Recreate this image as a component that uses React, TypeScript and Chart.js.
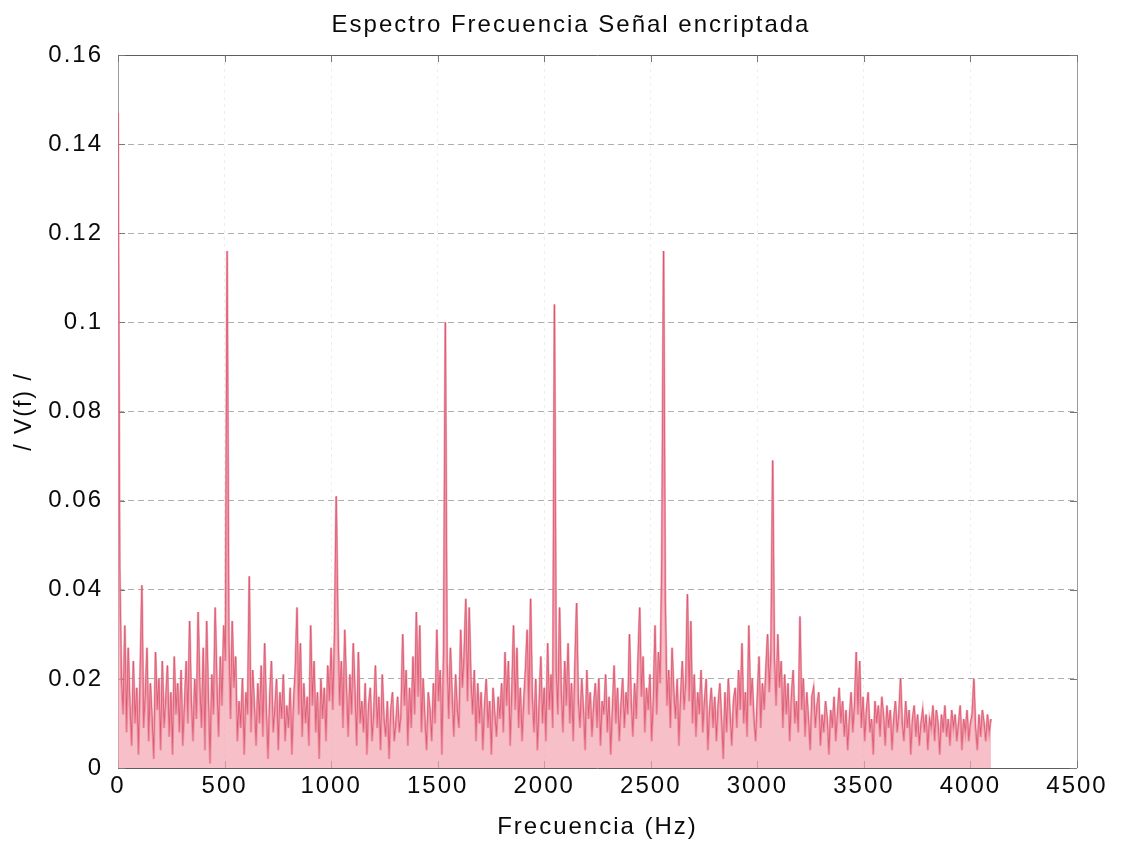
import { useEffect, useRef } from 'react';
import { Chart, registerables } from 'chart.js';

Chart.register(...registerables);

// Spectrum bin spacing (Hz) and magnitude unit (values below are |V(f)| x 1e-3)
const BIN_HZ = 8;
const MAG_UNIT = 1000;

// 0 – 504 Hz
const band0 = [
  147, 45, 20, 12, 32, 8, 27, 14,
  5, 24, 10, 18, 3, 21, 41, 9,
  16, 27, 6, 19, 11, 2, 26, 13,
  20, 4, 24, 9, 15, 23, 7, 17,
  3, 25, 12, 19, 8, 22, 5, 14,
  24, 10, 33, 15, 6, 20, 11, 35,
  18, 9, 27, 4, 33, 16, 1, 21,
  12, 36, 19, 7, 25, 14, 32, 24,
];
// 512 – 1016 Hz
const band1 = [
  116, 29, 11, 33, 18, 25, 6, 15,
  9, 20, 3, 17, 12, 43, 8, 22,
  14, 5, 19, 10, 23, 7, 28, 13,
  2, 16, 24, 8, 13, 20, 4, 17,
  11, 21, 6, 14, 9, 18, 3, 15,
  22, 36, 12, 28, 7, 19, 10, 16,
  5, 32, 14, 24, 8, 17, 2, 20,
  11, 18, 6, 23, 15, 27, 13, 30,
];
// 1024 – 1528 Hz
const band2 = [
  61, 32, 14, 24, 9, 31, 18, 7,
  21, 12, 28, 17, 5, 26, 10, 15,
  8, 19, 3, 14, 18, 6, 12, 23,
  9, 16, 4, 21, 11, 7, 15, 2,
  13, 17, 6, 10, 16, 8, 12, 30,
  14, 22, 5, 18, 9, 25, 12, 35,
  16, 32, 8, 20, 11, 4, 17, 13,
  6, 19, 10, 31, 15, 22, 3, 27,
];
// 1536 – 2040 Hz
const band3 = [
  100, 24, 11, 27, 16, 7, 21, 13,
  9, 31, 18, 25, 38, 15, 36, 20,
  12, 22, 6, 19, 10, 17, 4, 14,
  20, 9, 15, 3, 18, 12, 7, 16,
  11, 19, 8, 26, 14, 24, 5, 17,
  32, 13, 27, 9, 18, 6, 15, 22,
  31, 12, 38, 16, 8, 20, 4, 14,
  25, 10, 18, 6, 28, 13, 21, 9,
];
// 2048 – 2552 Hz
const band4 = [
  104, 22, 12, 36, 17, 8, 24, 14,
  28, 10, 19, 6, 23, 37, 15, 9,
  20, 13, 4, 22, 11, 17, 7, 14,
  19, 9, 20, 5, 15, 12, 21, 8,
  16, 3, 13, 23, 10, 18, 6, 14,
  20, 9, 17, 12, 30, 15, 7, 19,
  11, 24, 36, 16, 25, 8, 18, 13,
  21, 6, 15, 32, 12, 26, 19, 47,
];
// 2560 – 3064 Hz
const band5 = [
  116, 38, 14, 22, 9, 27, 17, 11,
  20, 5, 16, 24, 13, 19, 39, 15,
  33, 10, 21, 7, 17, 12, 22, 8,
  15, 20, 4, 13, 18, 9, 16, 6,
  14, 19, 11, 2, 17, 8, 20, 12,
  5, 15, 18, 9, 22, 13, 28, 10,
  17, 7, 32, 14, 20, 11, 6, 16,
  25, 9, 19, 13, 22, 30, 17, 26,
];
// 3072 – 3576 Hz
const band6 = [
  69, 25, 14, 30, 18, 24, 9, 21,
  12, 19, 6, 16, 22, 10, 15, 8,
  34, 13, 20, 7, 17, 11, 4, 16,
  18, 9, 14, 17, 5, 12, 8, 15,
  11, 3, 13, 9, 16, 6, 12, 18,
  10, 15, 7, 13, 4, 11, 17, 8,
  14, 26, 12, 24, 9, 16, 6, 13,
  17, 8, 11, 3, 15, 10, 14, 7,
];
// 3584 – 4096 Hz
const band7 = [
  16, 12, 5, 14, 9, 13, 4, 11,
  15, 8, 12, 20, 10, 6, 15, 9,
  13, 3, 11, 14, 7, 12, 5, 10,
  13, 8, 12, 4, 11, 9, 14, 6,
  13, 10, 3, 12, 8, 14, 7, 11,
  5, 13, 9, 12, 6, 10, 14, 4,
  11, 8, 13, 6, 10, 12, 20, 9,
  4, 12, 7, 13, 10, 6, 12, 8, 11,
];

const magnitudes = [band0, band1, band2, band3, band4, band5, band6, band7]
  .flat()
  .map((v) => v / MAG_UNIT);

const X_MAX = 4500;
const X_STEP = 500;
const Y_MAX = 0.16;
const Y_STEP = 0.02;

const TITLE = 'Espectro Frecuencia Señal encriptada';
const X_LABEL = 'Frecuencia (Hz)';
const Y_LABEL = '/ V(f) /';

const FONT_FAMILY = "'Liberation Sans', Arial, Helvetica, sans-serif";
const TEXT_COLOR = '#0a0a0a';
const LETTER_SPACING = '2px';
const TITLE_X = 571;
const TITLE_Y = 25;

// MATLAB-like axes box with inward tick marks, the figure title, and wider glyph spacing
const axesBox = {
  id: 'axesBox',
  beforeUpdate(chart: any) {
    chart.ctx.letterSpacing = LETTER_SPACING;
  },
  beforeDraw(chart: any) {
    chart.ctx.letterSpacing = LETTER_SPACING;
  },
  beforeDatasetsDraw(chart: any) {
    const { ctx, chartArea: a, scales } = chart;
    ctx.save();
    ctx.lineWidth = 1;
    ctx.setLineDash([]);
    ctx.strokeStyle = '#5e5e5e';
    ctx.beginPath();
    ctx.moveTo(a.left, a.top + 0.5);
    ctx.lineTo(a.right, a.top + 0.5);
    ctx.moveTo(a.left, a.bottom + 0.5);
    ctx.lineTo(a.right, a.bottom + 0.5);
    ctx.stroke();
    ctx.strokeStyle = '#9a9a9a';
    ctx.beginPath();
    ctx.moveTo(a.left + 0.5, a.top);
    ctx.lineTo(a.left + 0.5, a.bottom);
    ctx.moveTo(a.right + 0.5, a.top);
    ctx.lineTo(a.right + 0.5, a.bottom);
    ctx.stroke();
    const tl = 7;
    ctx.strokeStyle = '#777';
    ctx.beginPath();
    scales.x.ticks.forEach((t: any) => {
      const px = Math.round(scales.x.getPixelForValue(t.value)) + 0.5;
      ctx.moveTo(px, a.bottom);
      ctx.lineTo(px, a.bottom - tl);
      ctx.moveTo(px, a.top);
      ctx.lineTo(px, a.top + tl);
    });
    scales.y.ticks.forEach((t: any) => {
      const py = Math.round(scales.y.getPixelForValue(t.value)) + 0.5;
      ctx.moveTo(a.left, py);
      ctx.lineTo(a.left + tl, py);
      ctx.moveTo(a.right, py);
      ctx.lineTo(a.right - tl, py);
    });
    ctx.stroke();
    ctx.restore();
  },
  afterDraw(chart: any) {
    const { ctx } = chart;
    ctx.save();
    ctx.letterSpacing = LETTER_SPACING;
    ctx.font = `24px ${FONT_FAMILY}`;
    ctx.fillStyle = TEXT_COLOR;
    ctx.textAlign = 'center';
    ctx.textBaseline = 'middle';
    ctx.fillText(TITLE, TITLE_X, TITLE_Y);
    ctx.restore();
  },
};

export default function App() {
  const canvasRef = useRef<HTMLCanvasElement | null>(null);

  useEffect(() => {
    const canvas = canvasRef.current;
    if (!canvas) return;
    const points = magnitudes.map((y, i) => ({ x: i * BIN_HZ, y }));

    const chart = new Chart(canvas, {
      type: 'line',
      data: {
        datasets: [
          {
            // pink haze of the dense trace
            data: points,
            borderColor: 'rgba(234, 125, 148, 0.6)',
            backgroundColor: 'rgba(244, 165, 176, 0.7)',
            fill: 'origin',
            borderWidth: 2.4,
            pointRadius: 0,
            tension: 0,
          },
          {
            data: points,
            borderColor: 'rgb(194, 22, 42)',
            borderWidth: 1.1,
            pointRadius: 0,
            tension: 0,
          },
        ],
      },
      plugins: [axesBox],
      options: {
        responsive: false,
        animation: false,
        events: [],
        layout: { padding: { left: 0, right: 45, top: 55, bottom: 0 } },
        plugins: {
          legend: { display: false },
          tooltip: { enabled: false },
          title: { display: false },
        },
        scales: {
          x: {
            type: 'linear',
            min: 0,
            max: X_MAX,
            afterFit(scale: any) {
              scale.height = 78;
            },
            ticks: {
              stepSize: X_STEP,
              color: TEXT_COLOR,
              padding: 4,
              maxRotation: 0,
              font: { family: FONT_FAMILY, size: 24 },
              callback: (v: any) => String(v),
            },
            grid: {
              color: 'rgba(150, 150, 150, 0.16)',
              drawTicks: false,
            },
            border: { display: false, dash: [3, 4] },
            title: {
              display: true,
              text: X_LABEL,
              color: TEXT_COLOR,
              font: { family: FONT_FAMILY, size: 24 },
              padding: { top: 0, bottom: 4 },
            },
          },
          y: {
            type: 'linear',
            min: 0,
            max: Y_MAX,
            afterFit(scale: any) {
              scale.width = 118;
            },
            ticks: {
              stepSize: Y_STEP,
              color: TEXT_COLOR,
              padding: 15,
              font: { family: FONT_FAMILY, size: 24 },
              callback: (v: any) => String(Number(Number(v).toFixed(2))),
            },
            grid: {
              color: 'rgba(110, 110, 110, 0.55)',
              drawTicks: false,
            },
            border: { display: false, dash: [6, 4] },
            title: {
              display: true,
              text: Y_LABEL,
              color: TEXT_COLOR,
              font: { family: FONT_FAMILY, size: 23 },
              padding: { top: 11, bottom: 0 },
            },
          },
        },
      },
    });

    return () => chart.destroy();
  }, []);

  return (
    <div style={{ position: 'fixed', left: 0, top: 0, width: 1122, height: 846, background: '#fff' }}>
      <canvas ref={canvasRef} width={1122} height={846} />
    </div>
  );
}
